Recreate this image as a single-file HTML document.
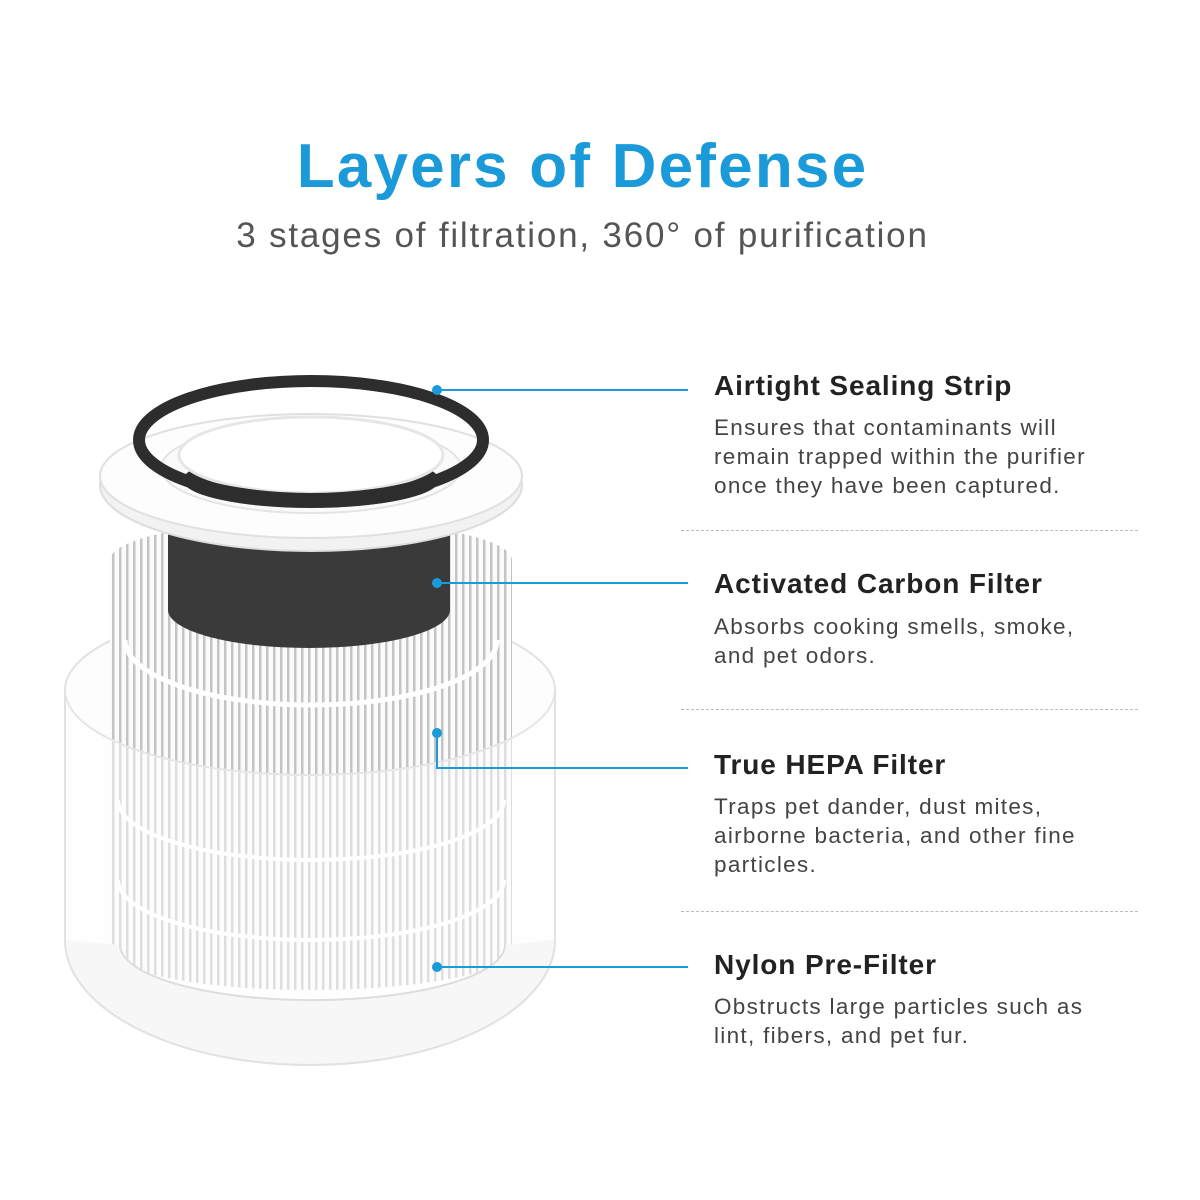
<!DOCTYPE html>
<html><head><meta charset="utf-8"><style>
html,body{margin:0;padding:0;background:#fff;}
body{width:1200px;height:1200px;position:relative;overflow:hidden;font-family:"Liberation Sans",sans-serif;}
.t{position:absolute;left:0;width:1165px;text-align:center;}
h1{position:absolute;top:131px;left:0;width:1165px;text-align:center;margin:0;font-size:62px;font-weight:bold;color:#1a9ad9;letter-spacing:2.2px;}
.sub{top:216px;font-size:35px;color:#555;letter-spacing:1.8px;}
.h{position:absolute;left:714px;font-size:28px;font-weight:bold;color:#222;letter-spacing:0.9px;}
.b{position:absolute;left:714px;font-size:22.5px;color:#444;line-height:29px;letter-spacing:1.3px;}
.d{position:absolute;left:681px;width:457px;border-top:1px dashed #bbb;}
svg{position:absolute;left:0;top:0;}
</style></head><body>
<h1>Layers of Defense</h1>
<div class="t sub">3 stages of filtration, 360° of purification</div>

<svg width="1200" height="1200" viewBox="0 0 1200 1200">
<defs>
<pattern id="pl" width="7" height="20" patternUnits="userSpaceOnUse">
<rect width="7" height="20" fill="#fbfbfb"/><rect x="0" width="2.5" height="20" fill="#c4c4c4"/>
</pattern>
<clipPath id="hc"><path d="M110 560 L110 950 A201 40 0 0 0 512 950 L512 560 Z"/></clipPath>
</defs>
<!-- nylon back -->
<path d="M65 690 L65 940 A245 125 0 0 0 555 940 L555 690 A245 85 0 0 0 65 690 Z" fill="#fdfdfd" stroke="#e2e2e2" stroke-width="2"/>
<!-- HEPA -->
<g clip-path="url(#hc)">
<rect x="110" y="540" width="402" height="460" fill="url(#pl)"/>
</g>
<ellipse cx="311" cy="560" rx="201" ry="40" fill="url(#pl)"/>
<path d="M125 640 A186 65 0 0 0 497 640" fill="none" stroke="#fff" stroke-width="5"/>
<path d="M118 800 A193 60 0 0 0 504 800" fill="none" stroke="#fff" stroke-width="4"/>
<path d="M118 880 A193 60 0 0 0 504 880" fill="none" stroke="#fff" stroke-width="4"/>
<!-- carbon -->
<path d="M168 530 L168 610 A141 38 0 0 0 450 610 L450 530 Z" fill="#3a3a3a"/>
<!-- nylon front overlay -->
<path d="M65 690 A245 85 0 0 0 555 690 L555 940 A245 125 0 0 1 65 940 Z" fill="#fff" fill-opacity="0.45"/>
<path d="M65 690 A245 85 0 0 0 555 690" fill="none" stroke="#e6e6e6" stroke-width="2"/>
<path d="M120 945 A192 55 0 0 0 505 945 L555 940 A245 125 0 0 1 65 940 Z" fill="#f7f7f7"/>
<path d="M120 945 A192 55 0 0 0 505 945" fill="none" stroke="#ddd" stroke-width="2"/>
<path d="M65 690 L65 940 A245 125 0 0 0 555 940 L555 690" fill="none" stroke="#e2e2e2" stroke-width="2"/>
<!-- flange -->
<ellipse cx="311" cy="485" rx="211" ry="66" fill="#f2f2f2" stroke="#ddd" stroke-width="2"/>
<ellipse cx="311" cy="476" rx="211" ry="62" fill="#fdfdfd" stroke="#e0e0e0" stroke-width="2"/>
<ellipse cx="311" cy="468" rx="150" ry="45" fill="#fafafa" stroke="#e4e4e4" stroke-width="2"/>
<ellipse cx="311" cy="480" rx="128" ry="28" fill="#2e2e2e"/>
<ellipse cx="311" cy="455" rx="132" ry="38" fill="#fff" stroke="#e6e6e6" stroke-width="3"/>
<!-- black ring -->
<ellipse cx="311" cy="440" rx="172" ry="59" fill="none" stroke="#2d2d2d" stroke-width="12"/>
<!-- connectors -->
<g stroke="#1a9ad9" stroke-width="2" fill="none">
<line x1="437" y1="390" x2="688" y2="390"/>
<line x1="437" y1="583" x2="688" y2="583"/>
<polyline points="437,733 437,768 688,768"/>
<line x1="437" y1="967" x2="688" y2="967"/>
</g>
<g fill="#1a9ad9">
<circle cx="437" cy="390" r="5"/><circle cx="437" cy="583" r="5"/>
<circle cx="437" cy="733" r="5"/><circle cx="437" cy="967" r="5"/>
</g>
</svg>

<div class="h" style="top:370px">Airtight Sealing Strip</div>
<div class="b" style="top:413px">Ensures that contaminants will<br>remain trapped within the purifier<br>once they have been captured.</div>
<div class="d" style="top:530px"></div>
<div class="h" style="top:568px">Activated Carbon Filter</div>
<div class="b" style="top:612px">Absorbs cooking smells, smoke,<br>and pet odors.</div>
<div class="d" style="top:709px"></div>
<div class="h" style="top:749px">True HEPA Filter</div>
<div class="b" style="top:792px">Traps pet dander, dust mites,<br>airborne bacteria, and other fine<br>particles.</div>
<div class="d" style="top:911px"></div>
<div class="h" style="top:949px">Nylon Pre-Filter</div>
<div class="b" style="top:992px">Obstructs large particles such as<br>lint, fibers, and pet fur.</div>
</body></html>
